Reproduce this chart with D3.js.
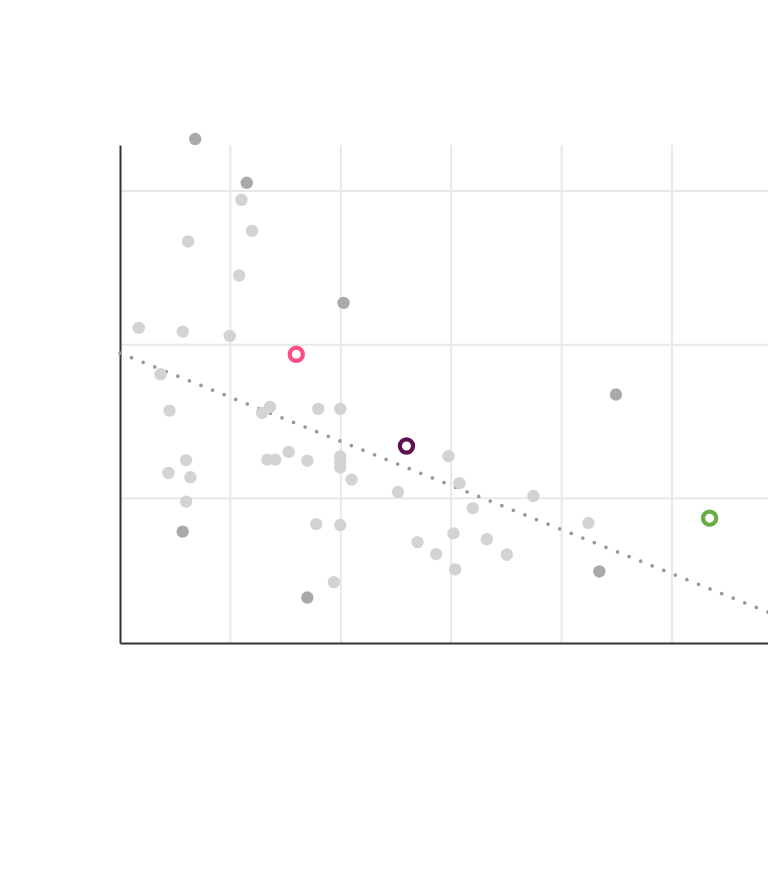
<!DOCTYPE html>
<html>
<head>
<meta charset="utf-8">
<script src="https://cdn.jsdelivr.net/npm/d3@7"></script>
<style>
  body { margin: 0; background: #fff; }
  svg { display: block; }
</style>
</head>
<body>
<div id="chart"></div>
<script>
// grey background points
const lightX = [11.0, 11.96, 6.17, 10.79, 1.70, 5.68, 9.94, 3.67, 4.48, 12.87, 13.59, 17.96, 19.95,
  5.99, 4.39, 6.38, 5.99, 13.35, 14.07, 15.28, 16.97, 19.95, 19.95, 19.95, 20.98, 17.78, 19.95, 19.38,
  25.18, 29.76, 30.75, 37.45, 31.96, 42.43, 30.21, 26.95, 33.23, 28.64, 35.04, 30.36];
const lightY = [29.43, 27.41, 26.72, 24.50, 21.09, 20.85, 20.57, 18.07, 15.70, 15.55, 15.94, 15.81, 15.81,
  12.48, 11.64, 11.36, 9.77, 12.51, 12.51, 13.01, 12.44, 12.72, 12.33, 11.99, 11.21, 8.31, 8.25, 4.53,
  10.40, 12.74, 10.98, 10.14, 9.35, 8.38, 7.71, 7.14, 7.33, 6.36, 6.32, 5.36];

const darkX = [6.81, 11.48, 20.25, 44.93, 5.68, 16.97, 43.42];
const darkY = [33.39, 30.54, 22.72, 16.75, 7.82, 3.53, 5.23];

// highlighted points
const highlightX = [15.97, 25.95, 53.41];
const highlightY = [19.37, 13.40, 8.70];
const highlightColors = ["#ff4d80", "#5e0f50", "#69ac45"];

// trend line end points
const trendX = [0, 58.7];
const trendY = [19.45, 2.58];

const xTicks = [10, 20, 30, 40, 50];
const yTicks = [10, 20, 30];

const width = 768, height = 888;
const margin = { top: 145, right: 0, bottom: 245, left: 120 };

const svg = d3.select("#chart").append("svg")
    .attr("width", width)
    .attr("height", height);

const x = d3.scaleLinear()
    .domain([0, 58.7])
    .range([margin.left, width - margin.right]);

const y = d3.scaleLinear()
    .domain([0.57, 33])
    .range([height - margin.bottom, margin.top]);

// grid
svg.append("g")
    .selectAll("line")
    .data(xTicks)
    .join("line")
    .attr("x1", d => x(d)).attr("x2", d => x(d))
    .attr("y1", margin.top).attr("y2", height - margin.bottom)
    .attr("stroke", "#e8e8e8")
    .attr("stroke-width", 2);

svg.append("g")
    .selectAll("line")
    .data(yTicks)
    .join("line")
    .attr("x1", margin.left).attr("x2", width - margin.right)
    .attr("y1", d => y(d)).attr("y2", d => y(d))
    .attr("stroke", "#e8e8e8")
    .attr("stroke-width", 2);

// axes lines, no labels
const xAxis = svg.append("g")
    .attr("transform", `translate(0,${height - margin.bottom})`)
    .call(d3.axisBottom(x).tickValues([]).tickSizeOuter(0));
const yAxis = svg.append("g")
    .attr("transform", `translate(${margin.left},0)`)
    .call(d3.axisLeft(y).tickValues([]).tickSizeOuter(0));
[xAxis, yAxis].forEach(a => a.select(".domain")
    .attr("stroke", "#333")
    .attr("stroke-width", 2));

// dotted trend line
svg.append("path")
    .datum(trendX.map((d, i) => [d, trendY[i]]))
    .attr("d", d3.line().x(d => x(d[0])).y(d => y(d[1])))
    .attr("fill", "none")
    .attr("stroke", "#999")
    .attr("stroke-width", 3.7)
    .attr("stroke-linecap", "round")
    .attr("stroke-dasharray", "0,12.46");

svg.append("g")
    .selectAll("circle")
    .data(lightX.map((d, i) => [d, lightY[i]]))
    .join("circle")
    .attr("cx", d => x(d[0]))
    .attr("cy", d => y(d[1]))
    .attr("r", 6.2)
    .attr("fill", "#d3d3d4");

svg.append("g")
    .selectAll("circle")
    .data(darkX.map((d, i) => [d, darkY[i]]))
    .join("circle")
    .attr("cx", d => x(d[0]))
    .attr("cy", d => y(d[1]))
    .attr("r", 6.2)
    .attr("fill", "#a9a9ac");

svg.append("g")
    .selectAll("circle")
    .data(highlightX.map((d, i) => [d, highlightY[i], highlightColors[i]]))
    .join("circle")
    .attr("cx", d => x(d[0]))
    .attr("cy", d => y(d[1]))
    .attr("r", 6.6)
    .attr("fill", "#fff")
    .attr("stroke", d => d[2])
    .attr("stroke-width", 4.2);
</script>
</body>
</html>
